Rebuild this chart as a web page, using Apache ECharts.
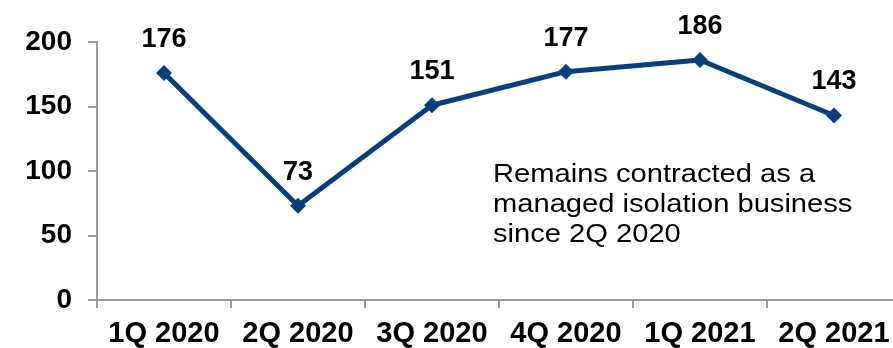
<!DOCTYPE html>
<html>
<head>
<meta charset="utf-8">
<style>
  html, body { margin: 0; padding: 0; background: #fff; overflow: hidden; }
  /* the plot runs slightly past the right edge of the window */
  #chart { width: 901px; height: 348px; }
</style>
<script src="https://cdn.jsdelivr.net/npm/echarts@6/dist/echarts.min.js"></script>
</head>
<body>
<div id="chart"></div>
<script>
// Quarterly figures
const quarters = ['1Q 2020', '2Q 2020', '3Q 2020', '4Q 2020', '1Q 2021', '2Q 2021'];
const values = [176, 73, 151, 177, 186, 143];
const yTicks = { min: 0, max: 200, step: 50 };
const noteLines = ['Remains contracted as a', 'managed isolation business', 'since 2Q 2020'];

const navy = '#063f7c';
const axisGrey = '#9a9a9a';
const fontFamily = 'Arial, "Liberation Sans", Helvetica, sans-serif';

const chart = echarts.init(document.getElementById('chart'), null, { renderer: 'canvas' });

chart.setOption({
  animation: false,
  backgroundColor: '#ffffff',
  grid: { left: 97, top: 42, right: 0, bottom: 44, containLabel: false },
  xAxis: {
    type: 'category',
    data: quarters,
    boundaryGap: true,
    axisLine: { show: true, lineStyle: { color: axisGrey, width: 2 } },
    axisTick: { show: true, alignWithLabel: false, length: 8, lineStyle: { color: axisGrey, width: 2 } },
    axisLabel: {
      margin: 19,
      color: '#000',
      fontSize: 29,
      fontWeight: 'bold',
      fontFamily: fontFamily,
      interval: 0
    },
    splitLine: { show: false }
  },
  yAxis: {
    type: 'value',
    min: yTicks.min,
    max: yTicks.max,
    interval: yTicks.step,
    axisLine: { show: true, lineStyle: { color: axisGrey, width: 2 } },
    axisTick: { show: true, length: 9, lineStyle: { color: axisGrey, width: 2 } },
    axisLabel: {
      margin: 25,
      color: '#000',
      fontSize: 28,
      fontWeight: 'bold',
      fontFamily: fontFamily
    },
    splitLine: { show: false }
  },
  series: [{
    type: 'line',
    data: values,
    symbol: 'diamond',
    symbolSize: 16,
    showAllSymbol: true,
    lineStyle: { color: navy, width: 5 },
    itemStyle: { color: navy },
    label: {
      show: true,
      position: 'top',
      distance: 12,
      color: '#000',
      fontSize: 27,
      fontWeight: 'bold',
      fontFamily: fontFamily
    },
    z: 3
  }],
  graphic: [{
    type: 'text',
    x: 493,
    y: 160,
    scaleX: 1.12,
    style: {
      text: noteLines.join('\n'),
      fill: '#000',
      font: '26px ' + fontFamily,
      lineHeight: 30
    }
  }]
});
</script>
</body>
</html>
